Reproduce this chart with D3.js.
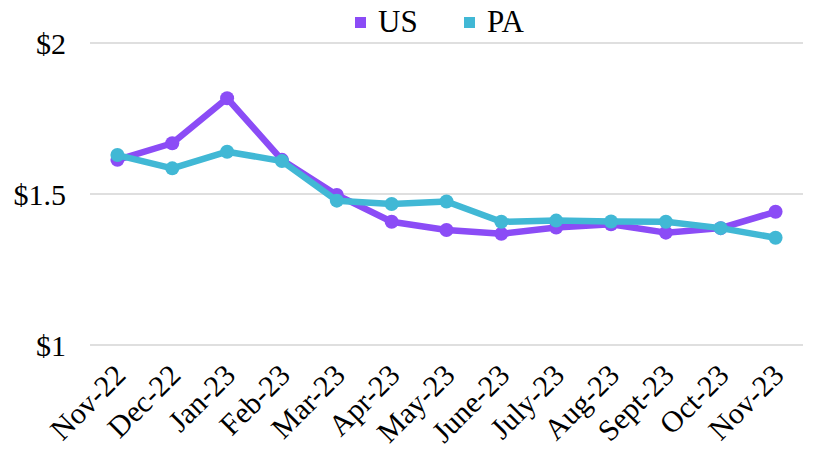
<!DOCTYPE html>
<html>
<head>
<meta charset="utf-8">
<script src="https://cdn.jsdelivr.net/npm/d3@7"></script>
<style>
  body { margin: 0; background: #fff; }
  svg text { font-family: "Liberation Serif", "Times New Roman", serif; fill: #000; }
</style>
</head>
<body>
<script>
// months along the x axis
var months = ["Nov-22", "Dec-22", "Jan-23", "Feb-23", "Mar-23", "Apr-23", "May-23",
  "June-23", "July-23", "Aug-23", "Sept-23", "Oct-23", "Nov-23"];

// price per month
var usValues = [1.613, 1.668, 1.817, 1.613, 1.497, 1.408, 1.381, 1.368, 1.389, 1.400, 1.372, 1.387, 1.441];
var paValues = [1.629, 1.585, 1.640, 1.609, 1.478, 1.467, 1.475, 1.408, 1.412, 1.409, 1.408, 1.387, 1.355];

var yTicks = [1, 1.5, 2];
var yTickLabels = ["$1", "$1.5", "$2"];

var seriesNames = ["US", "PA"];
var seriesColors = ["#8b4cf6", "#41b8d5"];

var width = 836, height = 452;
var plotLeft = 90, plotRight = 803, plotTop = 43, plotBottom = 345;

var svg = d3.select("body").append("svg")
  .attr("width", width)
  .attr("height", height);

var x = d3.scaleBand()
  .domain(months)
  .range([plotLeft, plotRight]);

var y = d3.scaleLinear()
  .domain([1, 2])
  .range([plotBottom, plotTop]);

// gridlines
svg.selectAll("line.grid")
  .data(yTicks)
  .enter()
  .append("line")
  .attr("class", "grid")
  .attr("x1", plotLeft)
  .attr("x2", plotRight)
  .attr("y1", function(d) { return y(d); })
  .attr("y2", function(d) { return y(d); })
  .attr("stroke", "#d4d4d4")
  .attr("stroke-width", 1.5);

// y labels
svg.selectAll("text.ylab")
  .data(yTicks)
  .enter()
  .append("text")
  .attr("class", "ylab")
  .attr("x", 66)
  .attr("y", function(d) { return y(d); })
  .attr("dy", "0.36em")
  .attr("text-anchor", "end")
  .style("font-size", "30px")
  .text(function(d, i) { return yTickLabels[i]; });

// x labels, rotated
svg.selectAll("text.xlab")
  .data(months)
  .enter()
  .append("text")
  .attr("class", "xlab")
  .attr("text-anchor", "end")
  .attr("transform", function(d) {
    var cx = x(d) + x.bandwidth() / 2 + 10;
    return "translate(" + cx + ",377) rotate(-45)";
  })
  .style("font-size", "30px")
  .text(function(d) { return d; });

var line = d3.line()
  .x(function(d, i) { return x(months[i]) + x.bandwidth() / 2; })
  .y(function(d) { return y(d); });

var allSeries = [usValues, paValues];

allSeries.forEach(function(vals, s) {
  var g = svg.append("g");
  g.append("path")
    .datum(vals)
    .attr("d", line)
    .attr("fill", "none")
    .attr("stroke", seriesColors[s])
    .attr("stroke-width", 6.5)
    .attr("stroke-linejoin", "round");
  g.selectAll("circle")
    .data(vals)
    .enter()
    .append("circle")
    .attr("cx", function(d, i) { return x(months[i]) + x.bandwidth() / 2; })
    .attr("cy", function(d) { return y(d); })
    .attr("r", 7)
    .attr("fill", seriesColors[s]);
});

// legend
var legendX = [355, 464];
var legend = svg.selectAll("g.legend")
  .data(seriesNames)
  .enter()
  .append("g")
  .attr("class", "legend")
  .attr("transform", function(d, i) { return "translate(" + legendX[i] + ",0)"; });

legend.append("rect")
  .attr("x", 0)
  .attr("y", 17)
  .attr("width", 11)
  .attr("height", 11)
  .attr("fill", function(d, i) { return seriesColors[i]; });

legend.append("text")
  .attr("x", 23)
  .attr("y", 32)
  .style("font-size", "31px")
  .text(function(d) { return d; });
</script>
</body>
</html>
